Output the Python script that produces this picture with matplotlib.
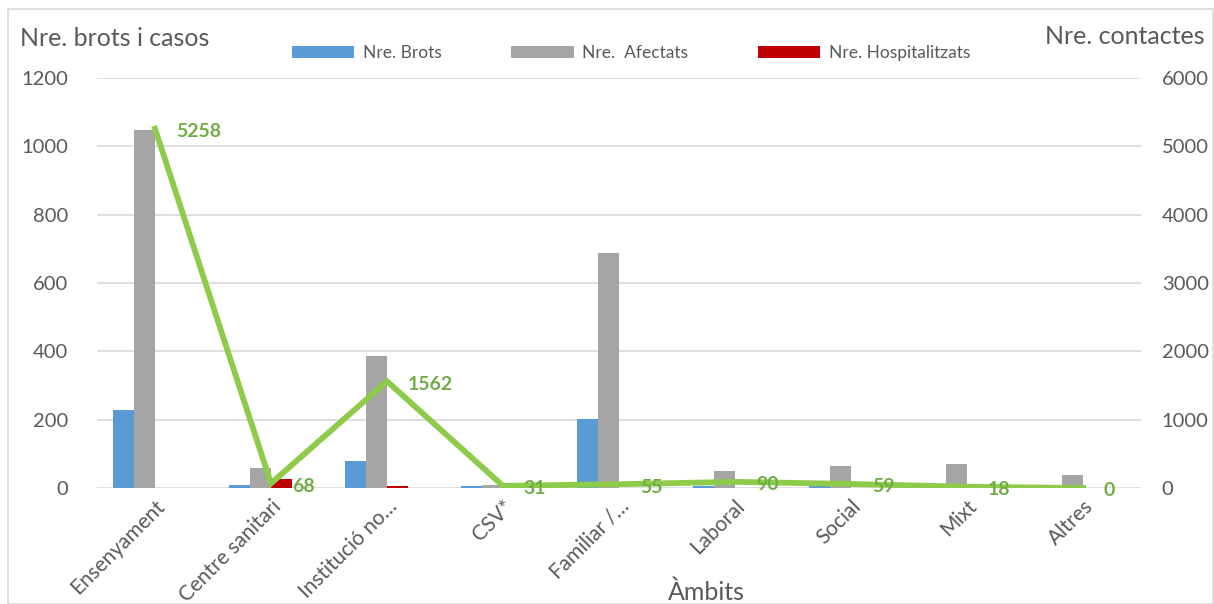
import matplotlib
matplotlib.use("Agg")
import matplotlib.pyplot as plt
import numpy as np
from matplotlib.patches import Rectangle

plt.rcParams['font.family'] = ['Lato', 'DejaVu Sans']

categories = ["Ensenyament", "Centre sanitari", "Institució no…", "CSV*", "Familiar /…",
              "Laboral", "Social", "Mixt", "Altres"]
brots = [229, 10, 79, 5, 202, 7, 6, 2, 1]
afectats = [1047, 60, 386, 10, 687, 51, 65, 70, 37]
hospitalitzats = [0, 27, 5, 0, 0, 0, 0, 0, 0]
contactes = [5258, 68, 1562, 31, 55, 90, 59, 18, 0]

left_ticks = [0, 200, 400, 600, 800, 1000, 1200]
right_ticks = [0, 1000, 2000, 3000, 4000, 5000, 6000]

BLUE = "#5B9BD5"
GRAY = "#A5A5A5"
RED = "#C00000"
GREEN = "#8FCB4B"
GREEN_LBL = "#70AD47"
TXT = "#595959"

W, H = 1214, 604
fig = plt.figure(figsize=(W / 100, H / 100), dpi=100)
fig.patches.append(Rectangle((8 / W, 0), 1 - 9 / W, 1 - 9 / H, transform=fig.transFigure,
                             fill=False, edgecolor="#D9D9D9", linewidth=1.2))

ax = fig.add_axes([97 / W, (604 - 488) / H, (1141 - 97) / W, (488 - 78) / H])
ax2 = ax.twinx()

x = np.arange(len(categories))
bw = 0.18
ax.bar(x - 2 * bw, brots, width=bw, color=BLUE, align='edge', label="Nre. Brots", zorder=2)
ax.bar(x - 1 * bw, afectats, width=bw, color=GRAY, align='edge', label="Nre.  Afectats", zorder=2)
ax.bar(x, hospitalitzats, width=bw, color=RED, align='edge', label="Nre. Hospitalitzats", zorder=2)

ax2.plot(x, contactes, color=GREEN, linewidth=4.2, solid_joinstyle='miter', zorder=3)
for xi, v in zip(x, contactes):
    ax2.annotate(str(v), (xi, v), xytext=(15, -2), textcoords='offset points',
                 ha='left', va='center', color=GREEN_LBL, fontsize=14, fontweight='bold')

ax.set_xlim(-0.5, len(categories) - 0.5)
ax.set_ylim(0, 1200)
ax2.set_ylim(0, 6000)
ax.set_yticks(left_ticks)
ax2.set_yticks(right_ticks)
ax.grid(axis='y', color="#D9D9D9", linewidth=1.2, zorder=0)
ax.set_axisbelow(True)
ax2.set_zorder(ax.get_zorder() + 1)
ax.patch.set_visible(False)

for a in (ax, ax2):
    for s in a.spines.values():
        s.set_visible(False)
    a.tick_params(length=0, colors=TXT, labelsize=14.5)
ax.tick_params(axis='y', pad=21)
ax2.tick_params(axis='y', pad=15)

ax.set_xticks(x)
ax.set_xticklabels(categories, rotation=45, ha='right', rotation_mode='anchor', fontsize=15, color=TXT)
ax.tick_params(axis='x', pad=6)

fig.text(20 / W, 1 - 38 / H, "Nre. brots i casos", fontsize=18, color=TXT, va='center', ha='left')
fig.text(1205 / W, 1 - 36 / H, "Nre. contactes", fontsize=18, color=TXT, va='center', ha='right')
fig.text(706 / W, 1 - 592 / H, "Àmbits", fontsize=18, color=TXT, va='center', ha='center')

leg = ax.legend(loc='center', bbox_to_anchor=(631 / W, 1 - 53 / H), bbox_transform=fig.transFigure,
                ncol=3, frameon=False, fontsize=12.5, handlelength=3.6, handleheight=0.7,
                columnspacing=4.0, handletextpad=0.5, labelcolor=TXT)

fig.savefig("out.png", dpi=100)
